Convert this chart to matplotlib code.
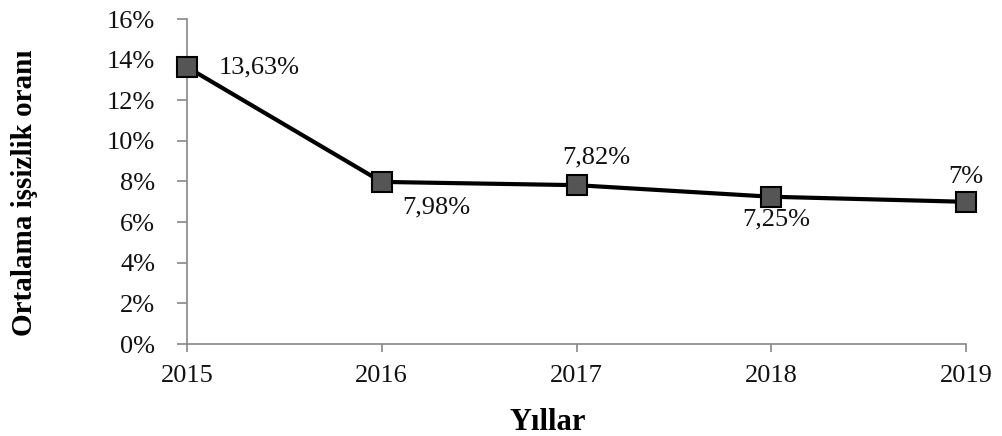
import matplotlib
matplotlib.use("Agg")
import matplotlib.pyplot as plt
from matplotlib.ticker import FuncFormatter

years = [2015, 2016, 2017, 2018, 2019]
rates = [13.63, 7.98, 7.82, 7.25, 7.00]
labels = ["13,63%", "7,98%", "7,82%", "7,25%", "7%"]
# label offsets in pixels from each point
offsets = [(32, 0), (55, -26), (20, 28), (5, -23), (0, 25)]
has = ["left", "center", "center", "center", "center"]

plt.rcParams['font.family'] = ['Liberation Serif', 'DejaVu Serif']

fig = plt.figure(figsize=(10.03, 4.36), dpi=100)
ax = fig.add_axes([187/1003, 92/436, 779/1003, 325/436])

ax.plot(years, rates, color='black', linewidth=3, marker='s', markersize=14,
        markerfacecolor='#555555', markeredgecolor='black', markeredgewidth=1.5,
        clip_on=False, zorder=5)

for x, y, t, off, ha in zip(years, rates, labels, offsets, has):
    ax.annotate(t, (x, y), xytext=off, textcoords='offset pixels',
                ha=ha, va='center', fontsize=19, color='#111111')

ax.set_xlim(2015, 2019)
ax.set_ylim(0, 16)
ax.set_xticks(years)
ax.set_yticks(range(0, 17, 2))
ax.yaxis.set_major_formatter(FuncFormatter(lambda v, p: f"{int(v)}%"))

for s in ['top', 'right']:
    ax.spines[s].set_visible(False)
for s in ['left', 'bottom']:
    ax.spines[s].set_color('#888888')
    ax.spines[s].set_linewidth(1.2)

ax.tick_params(axis='y', direction='out', length=7, width=1.2, color='#888888',
               labelsize=19, pad=16, labelcolor='#111111')
ax.tick_params(axis='x', direction='out', length=6, width=1.2, color='#888888',
               labelsize=19, pad=9, labelcolor='#111111')

ax.set_xlabel("Yıllar", fontsize=22, fontweight='bold', va='center')
ax.xaxis.set_label_coords((548-187)/779, -(422-344)/325)
ax.set_ylabel("Ortalama işsizlik oranı", fontsize=21, fontweight='bold', va='center')
ax.yaxis.set_label_coords(-(187-25)/779, (344-193)/325)

fig.savefig("out.png", dpi=100)
